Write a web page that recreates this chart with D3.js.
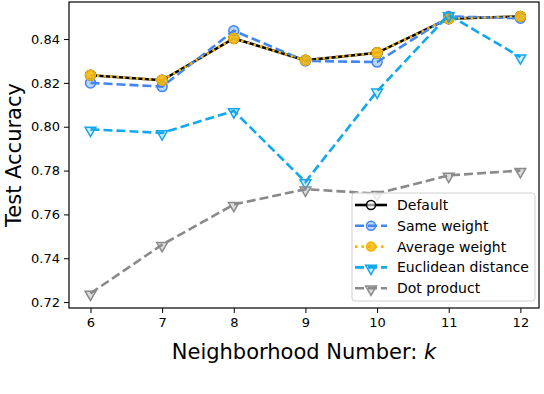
<!DOCTYPE html>
<html>
<head>
<meta charset="utf-8">
<script src="https://cdn.jsdelivr.net/npm/d3@7"></script>
<style>
  body { margin: 0; background: #fff; }
  text { font-family: "DejaVu Sans", sans-serif; }
</style>
</head>
<body>
<script>
// neighborhood numbers on the x axis
const ks = [6, 7, 8, 9, 10, 11, 12];

// test accuracy per method
const defaultAcc = [0.8235, 0.8212, 0.8403, 0.8303, 0.8337, 0.8493, 0.8503];
const sameWeight = [0.8200, 0.8183, 0.8438, 0.8300, 0.8295, 0.8503, 0.8495];
const avgWeight = [0.8235, 0.8212, 0.8403, 0.8303, 0.8337, 0.8493, 0.8503];
const euclidean = [0.7988, 0.7972, 0.8072, 0.7748, 0.8162, 0.8510, 0.8318];
const dotProduct = [0.7240, 0.7462, 0.7645, 0.7715, 0.7695, 0.7778, 0.7800];

const yTicks = [0.72, 0.74, 0.76, 0.78, 0.80, 0.82, 0.84];

const series = [
  { name: "Default", values: defaultAcc, color: "#000000", dash: null, marker: "circle", face: "#ffffff", faceOp: 0.6 },
  { name: "Same weight", values: sameWeight, color: "#4286f4", dash: "9,4", marker: "circle", face: "#4286f4", faceOp: 0.35 },
  { name: "Average weight", values: avgWeight, color: "#f4b400", dash: "2.5,4", marker: "circle", face: "#f4b400", faceOp: 0.8 },
  { name: "Euclidean distance", values: euclidean, color: "#13a7ee", dash: "9,4", marker: "tri", face: "#13a7ee", faceOp: 0.2 },
  { name: "Dot product", values: dotProduct, color: "#8a8a8a", dash: "9,4", marker: "tri", face: "#8a8a8a", faceOp: 0.3 }
];

const svg = d3.select("body").append("svg")
    .attr("width", 544)
    .attr("height", 394);

const pLeft = 69, pRight = 539, pTop = 2, pBottom = 308;

const x = d3.scaleLinear().domain([5.7, 12.26]).range([pLeft, pRight]);
const y = d3.scaleLinear().domain([0.7173, 0.8569]).range([pBottom, pTop]);

// axes
const xAxis = svg.append("g")
    .attr("transform", `translate(0,${pBottom})`)
    .call(d3.axisBottom(x).tickValues(ks).tickFormat(d3.format("d")).tickSize(5).tickPadding(5));
const yAxis = svg.append("g")
    .attr("transform", `translate(${pLeft},0)`)
    .call(d3.axisLeft(y).tickValues(yTicks).tickFormat(d3.format(".2f")).tickSize(5).tickPadding(4));

[xAxis, yAxis].forEach(a => {
  a.select(".domain").remove();
  a.selectAll("text").style("font-size", "13px").attr("fill", "#000");
  a.selectAll("line").attr("stroke", "#000").attr("stroke-width", 1);
});

svg.append("rect")
    .attr("x", pLeft).attr("y", pTop)
    .attr("width", pRight - pLeft).attr("height", pBottom - pTop)
    .attr("fill", "none").attr("stroke", "#000").attr("stroke-width", 1.2);

const tri = d3.symbol().type(d3.symbolTriangle).size(50);

function drawMarker(g, s, cx, cy, r) {
  if (s.marker === "circle") {
    g.append("circle")
        .attr("cx", cx).attr("cy", cy).attr("r", r)
        .attr("fill", s.face).attr("fill-opacity", s.faceOp)
        .attr("stroke", s.color).attr("stroke-width", 1.5);
  } else {
    g.append("path")
        .attr("d", tri)
        .attr("transform", `translate(${cx},${cy + 1}) rotate(180)`)
        .attr("fill", s.face).attr("fill-opacity", s.faceOp)
        .attr("stroke", s.color).attr("stroke-width", 1.5);
  }
}

const line = d3.line().x(d => x(d[0])).y(d => y(d[1]));

series.forEach(s => {
  const pts = ks.map((k, i) => [k, s.values[i]]);
  const g = svg.append("g");
  g.append("path")
      .datum(pts)
      .attr("d", line)
      .attr("fill", "none")
      .attr("stroke", s.color)
      .attr("stroke-width", 2.6)
      .attr("stroke-dasharray", s.dash);
  pts.forEach(p => drawMarker(g, s, x(p[0]), y(p[1]), 5));
});

// legend
const legend = svg.append("g").attr("transform", "translate(352,193)");
legend.append("rect")
    .attr("width", 183).attr("height", 108).attr("rx", 3)
    .attr("fill", "#fff").attr("fill-opacity", 0.8)
    .attr("stroke", "#d0d0d0");

series.forEach((s, i) => {
  const ly = 12 + i * 20.8;
  const g = legend.append("g");
  g.append("line")
      .attr("x1", 3).attr("x2", 35).attr("y1", ly).attr("y2", ly)
      .attr("stroke", s.color).attr("stroke-width", 2.6)
      .attr("stroke-dasharray", s.dash);
  drawMarker(g, s, 19, ly, 4.5);
  legend.append("text")
      .attr("x", 45).attr("y", ly + 5)
      .style("font-size", "14px")
      .text(s.name);
});

// axis labels
svg.append("text")
    .attr("x", (pLeft + pRight) / 2).attr("y", 359)
    .attr("text-anchor", "middle")
    .style("font-size", "21px")
    .html('Neighborhood Number: <tspan font-style="italic">k</tspan>');

svg.append("text")
    .attr("transform", `translate(21,${(pTop + pBottom) / 2}) rotate(-90)`)
    .attr("text-anchor", "middle")
    .style("font-size", "21px")
    .text("Test Accuracy");
</script>
</body>
</html>
